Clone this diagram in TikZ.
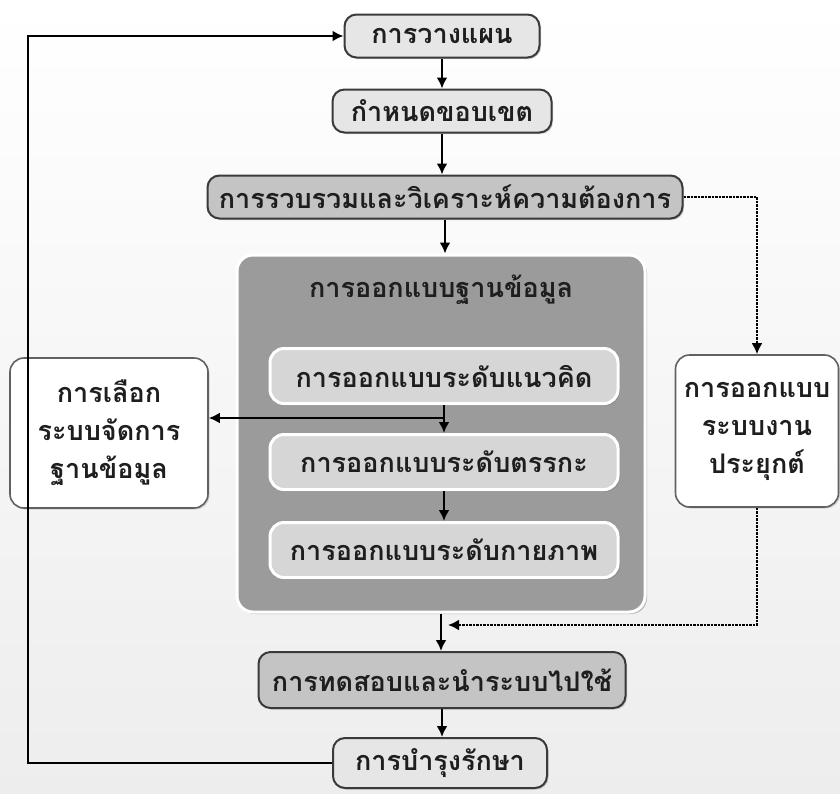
\documentclass[tikz,border=0pt]{standalone}
\usepackage{fontspec}
\newfontfamily\thaifont[Script=Thai]{Loma}
\usepackage{tikz}
\usetikzlibrary{arrows.meta,positioning,calc,shadows}
\definecolor{boxline}{HTML}{3A3A3A}
\definecolor{lightfill}{HTML}{E6E6E6}
\definecolor{midfill}{HTML}{C4C4C4}
\definecolor{darkfill}{HTML}{9B9B9B}
\definecolor{innerfill}{HTML}{D6D6D6}
\definecolor{txt}{HTML}{1E1E1E}

\begin{document}
\begin{tikzpicture}[x=1pt,y=-1pt]
\tikzset{
    stage/.style={rounded corners=12pt,draw=boxline,line width=2pt,fill=lightfill,
      text=txt,font=\thaifont\bfseries\fontsize{27}{30}\selectfont,minimum height=43pt,
      drop shadow={shadow xshift=1.5pt,shadow yshift=-1.5pt,opacity=0.35}},
    stagedark/.style={stage,fill=midfill},
    inner/.style={rounded corners=14pt,draw=white,line width=3pt,fill=innerfill,
      text=txt,font=\thaifont\bfseries\fontsize{27}{30}\selectfont,minimum width=348pt,minimum height=55pt,
      drop shadow={shadow xshift=2pt,shadow yshift=-2pt,opacity=0.5}},
    side/.style={rounded corners=14pt,draw=boxline!80,line width=1.6pt,fill=white,
      text=txt,align=center,font=\thaifont\bfseries\fontsize{27}{38}\selectfont,
      drop shadow={shadow xshift=1.5pt,shadow yshift=-1.5pt,opacity=0.3}},
    flow/.style={->,>={Latex[length=11pt,width=11pt]},line width=2.5pt},
    dotflow/.style={flow,densely dotted,line width=2.5pt}
}
% background
\shade[top color=white,bottom color=gray!14] (0,0) rectangle (840,793);
\useasboundingbox (0,0) rectangle (840,793);
  % main stages
\node[stage,minimum width=195pt] (plan) at (442,36) {การวางแผน};
\node[stage,minimum width=219pt] (scope) at (442,111) {กำหนดขอบเขต};
\node[stagedark,minimum width=475pt] (req) at (445,197) {การรวบรวมและวิเคราะห์ความต้องการ};
% database design block
\node[rounded corners=16pt,draw=white,line width=3pt,fill=darkfill,minimum width=408pt,minimum height=357pt,
  drop shadow={shadow xshift=2pt,shadow yshift=-2pt,opacity=0.5}] (dbdesign) at (441,433.5) {};
\node[text=txt,font=\thaifont\bfseries\fontsize{27}{30}\selectfont] (dbtitle) at (441,290) {การออกแบบฐานข้อมูล};
\node[inner] (concept) at (444,376) {การออกแบบระดับแนวคิด};
\node[inner] (logic) at (444,462) {การออกแบบระดับตรรกะ};
\node[inner] (phys) at (444,550) {การออกแบบระดับกายภาพ};
% side boxes
\node[side,minimum width=198pt,minimum height=150pt] (dbms) at (109,433) {การเลือก\\ระบบจัดการ\\ฐานข้อมูล};
\node[side,minimum width=163pt,minimum height=152pt] (app) at (757,431) {การออกแบบ\\ระบบงาน\\ประยุกต์};
% last stages
\node[stagedark,minimum width=367pt,minimum height=56pt] (test) at (442,680) {การทดสอบและนำระบบไปใช้};
\node[stage,minimum width=214pt,minimum height=50pt] (maint) at (440,763) {การบำรุงรักษา};
\coordinate (fork) at (444,418);
\coordinate (merge) at (448,625);
\coordinate (loopx) at (28,0);
% edges
\draw[flow] (plan) -- (scope);
\draw[flow] (scope.south) -- (scope.south |- req.north);
\draw[flow] (req.south) -- (req.south |- dbdesign.north);
\draw[flow] (concept) -- (logic);
\draw[flow] (fork) -- (fork -| dbms.east);
\draw[flow] (logic) -- (phys);
\draw[flow] (dbdesign.south) -- (dbdesign.south |- test.north);
\draw[flow] (test.south) -- (test.south |- maint.north);
\draw[flow] (maint.west) -- (maint.west -| loopx) |- (plan.west);
\draw[dotflow] (req.east) -| (app.north);
\draw[dotflow] (app.south) |- (merge);
\end{tikzpicture}
\end{document}
